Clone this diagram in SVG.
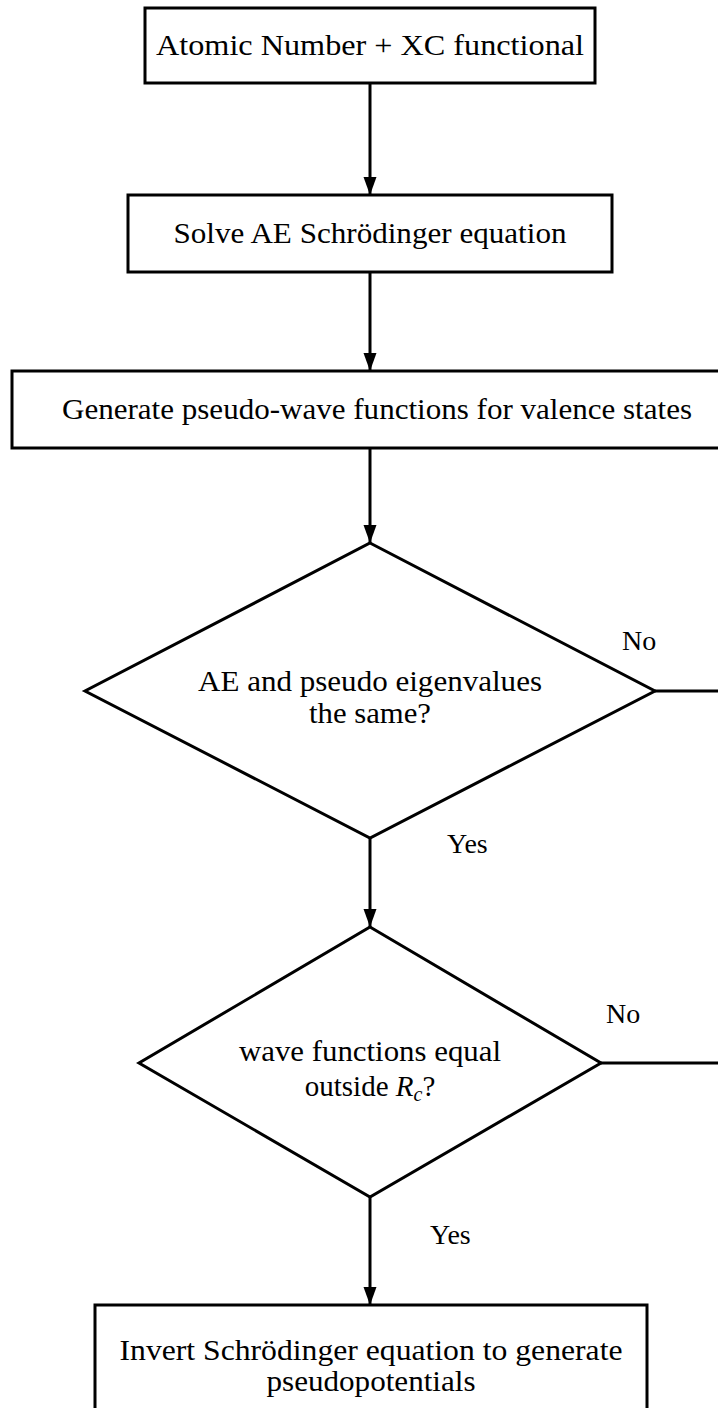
<svg xmlns="http://www.w3.org/2000/svg" width="718" height="1408" viewBox="0 0 718 1408">
  <style>
    .box { fill: #ffffff; stroke: #000000; stroke-width: 3; }
    .conn { stroke: #000000; stroke-width: 3; fill: none; }
    .t { font-family: "Liberation Serif", "DejaVu Serif", serif; font-size: 29px; fill: #000000; text-anchor: middle; }
    .lbl { font-family: "Liberation Serif", "DejaVu Serif", serif; font-size: 28px; fill: #000000; }
  </style>
  <defs>
    <marker id="arr" markerUnits="userSpaceOnUse" markerWidth="18" markerHeight="14" refX="18" refY="7" orient="auto">
      <path d="M0,0.5 L18,7 L0,13.5 Z" fill="#000000"/>
    </marker>
  </defs>

  <g id="connectors">
    <line class="conn" x1="370" y1="83" x2="370" y2="195" marker-end="url(#arr)"/>
    <line class="conn" x1="370" y1="272" x2="370" y2="371" marker-end="url(#arr)"/>
    <line class="conn" x1="370" y1="448" x2="370" y2="543" marker-end="url(#arr)"/>
    <line class="conn" x1="370" y1="838" x2="370" y2="927" marker-end="url(#arr)"/>
    <line class="conn" x1="370" y1="1197" x2="370" y2="1305" marker-end="url(#arr)"/>
    <line class="conn" x1="655" y1="691" x2="720" y2="691"/>
    <line class="conn" x1="601" y1="1063" x2="720" y2="1063"/>
    <text class="lbl" x="622" y="650">No</text>
    <text class="lbl" x="447" y="853">Yes</text>
    <text class="lbl" x="606" y="1023">No</text>
    <text class="lbl" x="430" y="1244">Yes</text>
  </g>

  <g id="node-atomic">
    <rect class="box" x="145" y="8" width="450" height="75"/>
    <text class="t" x="370" y="55" textLength="428" lengthAdjust="spacingAndGlyphs">Atomic Number + XC functional</text>
  </g>

  <g id="node-solve">
    <rect class="box" x="128" y="195" width="484" height="77"/>
    <text class="t" x="370" y="243" textLength="393" lengthAdjust="spacingAndGlyphs">Solve AE Schrödinger equation</text>
  </g>

  <g id="node-generate">
    <rect class="box" x="12" y="371" width="730" height="77"/>
    <text class="t" x="377" y="419" textLength="630" lengthAdjust="spacingAndGlyphs">Generate pseudo-wave functions for valence states</text>
  </g>

  <g id="node-eigen">
    <polygon class="box" points="370,543 655,691 370,838 85,691"/>
    <text class="t" x="370" y="691" textLength="344" lengthAdjust="spacingAndGlyphs">AE and pseudo eigenvalues</text>
    <text class="t" x="370" y="723" textLength="122" lengthAdjust="spacingAndGlyphs">the same?</text>
  </g>

  <g id="node-wave">
    <polygon class="box" points="370,927 601,1063 370,1197 139,1063"/>
    <text class="t" x="370" y="1061" textLength="262" lengthAdjust="spacingAndGlyphs">wave functions equal</text>
    <text class="t" x="370" y="1096">outside <tspan font-style="italic">R</tspan><tspan font-style="italic" font-size="20" dy="5">c</tspan><tspan dy="-5">?</tspan></text>
  </g>

  <g id="node-invert">
    <rect class="box" x="95" y="1305" width="552" height="120"/>
    <text class="t" x="371" y="1360" textLength="503" lengthAdjust="spacingAndGlyphs">Invert Schrödinger equation to generate</text>
    <text class="t" x="371" y="1391" textLength="209" lengthAdjust="spacingAndGlyphs">pseudopotentials</text>
  </g>
</svg>
